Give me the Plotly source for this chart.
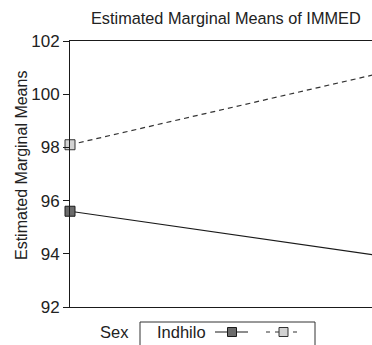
import plotly.graph_objects as go

# ---- data ----
categories = ["1", "2"]
series_names = ["Indhilo", ""]
solid_values = [95.6, 93.95]
dashed_values = [98.1, 100.75]
y_ticks = [92, 94, 96, 98, 100, 102]

W, H = 372, 345
L, R, T, B = 70, 0, 41, 38
PW, PH = W - L - R, H - T - B

def px(x):
    return (x - L) / PW

def py(y):
    return (H - B - y) / PH

xpos = list(range(len(categories)))
FONT = "Liberation Sans, Arial, sans-serif"

fig = go.Figure()
fig.add_trace(go.Scatter(
    x=xpos, y=solid_values, mode="lines+markers", name=series_names[0],
    line=dict(color="#1a1a1a", width=1.2),
    marker=dict(symbol="square", size=10, color="#6b6b6b", line=dict(color="#1a1a1a", width=1)),
    cliponaxis=False, showlegend=False))
fig.add_trace(go.Scatter(
    x=xpos, y=dashed_values, mode="lines+markers", name=series_names[1],
    line=dict(color="#333333", width=1.2, dash="5px,4px"),
    marker=dict(symbol="square", size=10, color="#d2d2d2", line=dict(color="#333333", width=1)),
    cliponaxis=False, showlegend=False))

xr_max = (372 - 70) / (376 - 70)

fig.update_layout(
    width=W, height=H,
    margin=dict(l=L, r=R, t=T, b=B, pad=0),
    paper_bgcolor="white", plot_bgcolor="white",
    font=dict(family=FONT, size=16, color="#222222"),
    xaxis=dict(range=[0, xr_max * (len(categories) - 1)], showgrid=False, zeroline=False,
               showticklabels=False, ticks="", showline=True, mirror=True,
               linecolor="#1a1a1a", linewidth=1),
    yaxis=dict(range=[92, 102], tickvals=y_ticks, showgrid=False, zeroline=False,
               ticks="outside", ticklen=6, tickcolor="#1a1a1a", tickwidth=1,
               showline=True, linecolor="#1a1a1a", linewidth=1,
               tickfont=dict(size=17, family=FONT, color="#222222")),
)

annotations = [
    dict(text="Estimated Marginal Means of IMMED", x=px(226), y=py(18), xref="paper", yref="paper",
         showarrow=False, xanchor="center", yanchor="middle", font=dict(size=16.3, family=FONT)),
    dict(text="Estimated Marginal Means", x=px(21), y=py(166), xref="paper", yref="paper",
         showarrow=False, textangle=-90, xanchor="center", yanchor="middle", font=dict(size=16, family=FONT)),
    dict(text="Sex", x=px(114), y=py(332), xref="paper", yref="paper",
         showarrow=False, xanchor="center", yanchor="middle", font=dict(size=16.5, family=FONT)),
    dict(text=series_names[0], x=px(181), y=py(332), xref="paper", yref="paper",
         showarrow=False, xanchor="center", yanchor="middle", font=dict(size=16.5, family=FONT)),
]

shapes = [
    dict(type="rect", xref="paper", yref="paper", x0=px(140), x1=px(315), y0=py(322), y1=py(352),
         line=dict(color="#333333", width=1), fillcolor="rgba(0,0,0,0)"),
    # solid legend sample
    dict(type="line", xref="paper", yref="paper", x0=px(215), x1=px(248), y0=py(332), y1=py(332),
         line=dict(color="#1a1a1a", width=1.2)),
    dict(type="rect", xref="paper", yref="paper", x0=px(227.5), x1=px(236.5), y0=py(327.5), y1=py(336.5),
         line=dict(color="#1a1a1a", width=1), fillcolor="#6b6b6b"),
    # dashed legend sample
    dict(type="line", xref="paper", yref="paper", x0=px(266), x1=px(302), y0=py(332), y1=py(332),
         line=dict(color="#333333", width=1.2, dash="4px,5px")),
    dict(type="rect", xref="paper", yref="paper", x0=px(279), x1=px(288), y0=py(327.5), y1=py(336.5),
         line=dict(color="#333333", width=1), fillcolor="#d2d2d2"),
]

fig.update_layout(annotations=annotations, shapes=shapes)
fig.write_html("out.html", config={"displayModeBar": False},
               post_script="document.body.style.margin='0';document.body.style.overflow='hidden';")
